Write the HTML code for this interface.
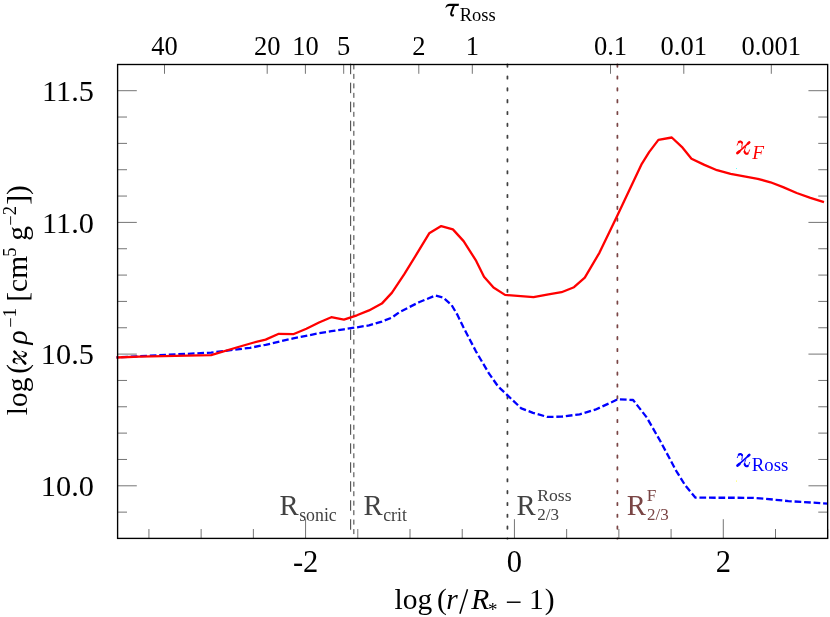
<!DOCTYPE html>
<html><head><meta charset="utf-8"><title>opacity plot</title>
<style>
html,body{margin:0;padding:0;background:#fff;}
body{width:830px;height:617px;overflow:hidden;font-family:"Liberation Serif",serif;}
svg{display:block;position:absolute;left:0;top:0;will-change:transform;}
text{font-family:"Liberation Serif",serif;}
.i{font-style:italic;}
</style></head><body>
<svg width="830" height="617" viewBox="0 0 830 617">
<rect x="0" y="0" width="830" height="617" fill="#fff"/>
<g stroke="#000" stroke-width="0.55" fill="none">
<line x1="117.6" y1="512.14" x2="127.0" y2="512.14"/>
<line x1="827.65" y1="512.14" x2="818.25" y2="512.14"/>
<line x1="117.6" y1="485.80" x2="136.79999999999998" y2="485.80"/>
<line x1="827.65" y1="485.80" x2="808.4499999999999" y2="485.80"/>
<line x1="117.6" y1="459.46" x2="127.0" y2="459.46"/>
<line x1="827.65" y1="459.46" x2="818.25" y2="459.46"/>
<line x1="117.6" y1="433.12" x2="127.0" y2="433.12"/>
<line x1="827.65" y1="433.12" x2="818.25" y2="433.12"/>
<line x1="117.6" y1="406.78" x2="127.0" y2="406.78"/>
<line x1="827.65" y1="406.78" x2="818.25" y2="406.78"/>
<line x1="117.6" y1="380.44" x2="127.0" y2="380.44"/>
<line x1="827.65" y1="380.44" x2="818.25" y2="380.44"/>
<line x1="117.6" y1="354.10" x2="136.79999999999998" y2="354.10"/>
<line x1="827.65" y1="354.10" x2="808.4499999999999" y2="354.10"/>
<line x1="117.6" y1="327.76" x2="127.0" y2="327.76"/>
<line x1="827.65" y1="327.76" x2="818.25" y2="327.76"/>
<line x1="117.6" y1="301.42" x2="127.0" y2="301.42"/>
<line x1="827.65" y1="301.42" x2="818.25" y2="301.42"/>
<line x1="117.6" y1="275.08" x2="127.0" y2="275.08"/>
<line x1="827.65" y1="275.08" x2="818.25" y2="275.08"/>
<line x1="117.6" y1="248.74" x2="127.0" y2="248.74"/>
<line x1="827.65" y1="248.74" x2="818.25" y2="248.74"/>
<line x1="117.6" y1="222.40" x2="136.79999999999998" y2="222.40"/>
<line x1="827.65" y1="222.40" x2="808.4499999999999" y2="222.40"/>
<line x1="117.6" y1="196.06" x2="127.0" y2="196.06"/>
<line x1="827.65" y1="196.06" x2="818.25" y2="196.06"/>
<line x1="117.6" y1="169.72" x2="127.0" y2="169.72"/>
<line x1="827.65" y1="169.72" x2="818.25" y2="169.72"/>
<line x1="117.6" y1="143.38" x2="127.0" y2="143.38"/>
<line x1="827.65" y1="143.38" x2="818.25" y2="143.38"/>
<line x1="117.6" y1="117.04" x2="127.0" y2="117.04"/>
<line x1="827.65" y1="117.04" x2="818.25" y2="117.04"/>
<line x1="117.6" y1="90.70" x2="136.79999999999998" y2="90.70"/>
<line x1="827.65" y1="90.70" x2="808.4499999999999" y2="90.70"/>
<line x1="148.93" y1="538.4" x2="148.93" y2="529.0"/>
<line x1="201.14" y1="538.4" x2="201.14" y2="529.0"/>
<line x1="253.36" y1="538.4" x2="253.36" y2="529.0"/>
<line x1="305.57" y1="538.4" x2="305.57" y2="519.1999999999999"/>
<line x1="357.79" y1="538.4" x2="357.79" y2="529.0"/>
<line x1="410.00" y1="538.4" x2="410.00" y2="529.0"/>
<line x1="462.22" y1="538.4" x2="462.22" y2="529.0"/>
<line x1="514.43" y1="538.4" x2="514.43" y2="519.1999999999999"/>
<line x1="566.65" y1="538.4" x2="566.65" y2="529.0"/>
<line x1="618.86" y1="538.4" x2="618.86" y2="529.0"/>
<line x1="671.08" y1="538.4" x2="671.08" y2="529.0"/>
<line x1="723.29" y1="538.4" x2="723.29" y2="519.1999999999999"/>
<line x1="775.51" y1="538.4" x2="775.51" y2="529.0"/>
<line x1="827.72" y1="538.4" x2="827.72" y2="529.0"/>
<line x1="164.5" y1="64.5" x2="164.5" y2="73.8"/>
<line x1="267.2" y1="64.5" x2="267.2" y2="73.8"/>
<line x1="305.4" y1="64.5" x2="305.4" y2="73.8"/>
<line x1="343.7" y1="64.5" x2="343.7" y2="73.8"/>
<line x1="418.8" y1="64.5" x2="418.8" y2="73.8"/>
<line x1="472.3" y1="64.5" x2="472.3" y2="73.8"/>
<line x1="610.5" y1="64.5" x2="610.5" y2="73.8"/>
<line x1="683.8" y1="64.5" x2="683.8" y2="73.8"/>
<line x1="771.3" y1="64.5" x2="771.3" y2="73.8"/>
</g>
<line x1="350.65" y1="63.7" x2="350.65" y2="538.4" stroke="#3c3c3c" stroke-width="1" stroke-dasharray="10.5 8.48"/>
<line x1="353.85" y1="64.4" x2="353.85" y2="538.4" stroke="#3c3c3c" stroke-width="1" stroke-dasharray="5 4.484"/>
<line x1="507.44" y1="64.45" x2="507.44" y2="538.7" stroke="#404040" stroke-width="1.75" stroke-dasharray="2.4 9.446" stroke-linecap="round"/>
<line x1="617.4" y1="64.45" x2="617.4" y2="538.7" stroke="#7a4545" stroke-width="1.75" stroke-dasharray="2.4 9.446" stroke-linecap="round"/>
<polyline points="116.5,357.4 211.1,352.6 250.0,347.8 265.6,344.8 293.2,338.4 319.0,333.2 331.3,331.2 343.9,329.3 356.9,327.3 369.0,325.4 381.8,321.6 391.9,317.6 399.4,312.1 418.9,302.3 435.4,295.5 443.2,297.5 451.6,305.0 457.6,315.2 463.3,327.0 475.9,351.3 488.9,373.4 498.0,386.3 507.6,395.4 521.3,408.4 533.0,412.8 547.2,416.9 561.5,416.7 579.7,414.3 595.2,409.7 609.5,403.2 617.7,399.3 633.1,400.0 646.7,417.4 660.4,441.3 676.2,470.8 685.3,485.5 695.5,497.7 752.3,497.8 765.0,498.7 788.4,501.1 828.0,503.6" fill="none" stroke="#0000ff" stroke-width="2.3" stroke-dasharray="6.7 2.83" stroke-dashoffset="4.8" stroke-linejoin="round"/>
<polyline points="116.5,357.5 139.2,356.7 211.1,355.1 238.3,347.0 253.9,342.5 265.6,339.6 278.8,333.8 293.2,334.2 306.4,328.7 319.0,322.5 331.3,317.2 343.9,319.6 356.9,315.3 369.0,310.4 381.8,303.6 391.8,292.9 404.3,274.2 416.9,253.7 429.2,233.3 441.2,226.1 452.9,229.4 463.6,241.1 476.2,260.9 484.0,276.7 493.5,287.5 505.0,294.9 533.5,297.2 548.5,294.3 561.5,292.2 574.0,287.2 584.8,277.7 599.4,252.8 616.9,216.4 630.1,188.6 641.8,163.8 649.1,152.1 658.4,139.9 671.8,137.5 682.6,147.7 691.5,158.7 704.4,164.9 717.0,170.2 730.6,173.9 744.2,176.4 757.8,178.8 770.5,182.3 783.1,187.1 796.7,193.0 810.4,197.8 824.0,202.1" fill="none" stroke="#ff0000" stroke-width="2.3" stroke-linejoin="round" stroke-linecap="butt"/>
<rect x="117.6" y="64.5" width="710.05" height="473.90" fill="none" stroke="#000" stroke-width="1.35"/>
<text x="93.9" y="100.9" font-size="30.3" text-anchor="end">11.5</text>
<text x="93.9" y="232.6" font-size="30.3" text-anchor="end">11.0</text>
<text x="93.9" y="364.3" font-size="30.3" text-anchor="end">10.5</text>
<text x="93.9" y="496.0" font-size="30.3" text-anchor="end">10.0</text>
<text x="305.6" y="571.8" font-size="30.5" text-anchor="middle">-2</text>
<text x="514.4" y="571.8" font-size="30.5" text-anchor="middle">0</text>
<text x="723.3" y="571.8" font-size="30.5" text-anchor="middle">2</text>
<text x="164.5" y="55.3" font-size="26.5" text-anchor="middle">40</text>
<text x="267.2" y="55.3" font-size="26.5" text-anchor="middle">20</text>
<text x="305.4" y="55.3" font-size="26.5" text-anchor="middle">10</text>
<text x="343.7" y="55.3" font-size="26.5" text-anchor="middle">5</text>
<text x="418.8" y="55.3" font-size="26.5" text-anchor="middle">2</text>
<text x="472.3" y="55.3" font-size="26.5" text-anchor="middle">1</text>
<text x="610.5" y="55.3" font-size="26.5" text-anchor="middle">0.1</text>
<text x="683.8" y="55.3" font-size="26.5" text-anchor="middle">0.01</text>
<text x="771.3" y="55.3" font-size="26.5" text-anchor="middle">0.001</text>
<path d="M445.4,7.8 C446.0,5.3 447.3,3.8 449.8,3.8 L459.0,3.8 L458.6,5.9 L449.6,5.9 C447.6,5.9 446.6,6.8 445.8,8.0 Z" fill="#000"/>
<path d="M454.0,5.5 C452.8,8.5 451.2,11.5 451.1,13.6 C451.0,15.6 452.6,15.9 453.0,15.2" fill="none" stroke="#000" stroke-width="2.0" stroke-linecap="round"/>
<text x="459.7" y="20.9" font-size="18.5">Ross</text>
<text x="394.6" y="608.9" font-size="29.5">log</text>
<text x="436.9" y="608.9" font-size="29.5">(</text>
<text x="446.2" y="608.9" font-size="29.5" class="i">r</text>
<line x1="459.9" y1="613.7" x2="467.5" y2="589.2" stroke="#000" stroke-width="1.5"/>
<text x="471.2" y="608.9" font-size="29.5" class="i">R</text>
<text x="487.9" y="616.3" font-size="19">*</text>
<text x="505.4" y="611.8" font-size="29.5">−</text>
<text x="529.1" y="608.9" font-size="29.5">1</text>
<text x="544.8" y="608.9" font-size="29.5">)</text>
<g transform="translate(27,414.7) rotate(-90)">
<text x="-0.6" y="0" font-size="29.5">log</text>
<text x="41.0" y="0" font-size="29.5">(</text>
<g transform="translate(50.3,-0.3)" stroke="#000" fill="none" stroke-linecap="round" stroke-linejoin="round"><path d="M0.9,-1.5 L12.8,-12.3" stroke-width="1.6"/><path d="M0.95,-1.55 L2.8,-3.2" stroke-width="2.7"/><path d="M11.4,-10.9 L12.75,-12.25" stroke-width="2.5"/><path d="M0.7,-9.5 C1.2,-11.6 2.4,-13.0 3.6,-13.2 C5.0,-13.4 5.9,-12.3 5.75,-10.6 C5.65,-9.3 5.4,-8.2 5.2,-7.2" stroke-width="0.9"/><path d="M2.3,-12.5 C3.2,-13.4 4.6,-13.3 5.4,-12.0" stroke-width="2.2"/><path d="M9.1,-7.4 C8.2,-5.5 7.7,-3.6 8.0,-2.4 C8.4,-0.9 9.6,-0.4 10.6,-0.7 C11.8,-1.1 12.6,-3.0 13.05,-4.7" stroke-width="0.9"/><path d="M8.1,-2.9 C8.5,-1.0 10.0,-0.5 11.1,-1.1" stroke-width="2.2"/></g>
<text x="70.3" y="0" font-size="29.5" class="i">ρ</text>
<text x="87" y="-9.9" font-size="18.5">−</text>
<text x="97.4" y="-11.1" font-size="18.5">1</text>
<text x="113" y="0" font-size="29.5">[cm</text>
<text x="157.9" y="-11.1" font-size="18.5">5</text>
<text x="174" y="0" font-size="29.5">g</text>
<text x="189" y="-9.9" font-size="18.5">−</text>
<text x="199.4" y="-11.1" font-size="18.5">2</text>
<text x="210" y="0" font-size="29.5">])</text>
</g>
<text x="279.6" y="514.9" font-size="28.7" fill="#424242">R</text>
<text x="299.2" y="520.7" font-size="17.8" fill="#424242">sonic</text>
<text x="363.6" y="514.9" font-size="28.7" fill="#424242">R</text>
<text x="383.2" y="520.7" font-size="17.8" fill="#424242">crit</text>
<text x="516.4" y="514.9" font-size="28.7" fill="#424242">R</text>
<text x="537.3" y="501.2" font-size="17.6" fill="#424242">Ross</text>
<text x="537.3" y="520.4" font-size="17" fill="#424242">2/3</text>
<text x="626.8" y="514.9" font-size="28.7" fill="#7a4545">R</text>
<text x="646.8" y="501.2" font-size="17.3" fill="#7a4545">F</text>
<text x="647.0" y="520.4" font-size="17" fill="#7a4545">2/3</text>
<g transform="translate(736.5,154.6)" stroke="#ff0000" fill="none" stroke-linecap="round" stroke-linejoin="round"><path d="M0.9,-1.5 L12.8,-12.3" stroke-width="1.6"/><path d="M0.95,-1.55 L2.8,-3.2" stroke-width="2.7"/><path d="M11.4,-10.9 L12.75,-12.25" stroke-width="2.5"/><path d="M0.7,-9.5 C1.2,-11.6 2.4,-13.0 3.6,-13.2 C5.0,-13.4 5.9,-12.3 5.75,-10.6 C5.65,-9.3 5.4,-8.2 5.2,-7.2" stroke-width="0.9"/><path d="M2.3,-12.5 C3.2,-13.4 4.6,-13.3 5.4,-12.0" stroke-width="2.2"/><path d="M9.1,-7.4 C8.2,-5.5 7.7,-3.6 8.0,-2.4 C8.4,-0.9 9.6,-0.4 10.6,-0.7 C11.8,-1.1 12.6,-3.0 13.05,-4.7" stroke-width="0.9"/><path d="M8.1,-2.9 C8.5,-1.0 10.0,-0.5 11.1,-1.1" stroke-width="2.2"/></g>
<text x="752.3" y="158.9" font-size="19.3" class="i" fill="#ff0000">F</text>
<g transform="translate(736.6,467.1)" stroke="#0000ff" fill="none" stroke-linecap="round" stroke-linejoin="round"><path d="M0.9,-1.5 L12.8,-12.3" stroke-width="1.6"/><path d="M0.95,-1.55 L2.8,-3.2" stroke-width="2.7"/><path d="M11.4,-10.9 L12.75,-12.25" stroke-width="2.5"/><path d="M0.7,-9.5 C1.2,-11.6 2.4,-13.0 3.6,-13.2 C5.0,-13.4 5.9,-12.3 5.75,-10.6 C5.65,-9.3 5.4,-8.2 5.2,-7.2" stroke-width="0.9"/><path d="M2.3,-12.5 C3.2,-13.4 4.6,-13.3 5.4,-12.0" stroke-width="2.2"/><path d="M9.1,-7.4 C8.2,-5.5 7.7,-3.6 8.0,-2.4 C8.4,-0.9 9.6,-0.4 10.6,-0.7 C11.8,-1.1 12.6,-3.0 13.05,-4.7" stroke-width="0.9"/><path d="M8.1,-2.9 C8.5,-1.0 10.0,-0.5 11.1,-1.1" stroke-width="2.2"/></g>
<text x="751.8" y="470.6" font-size="18.8" fill="#0000ff">Ross</text>
<rect x="736" y="168" width="1" height="1" fill="#66ffff"/>
<rect x="736" y="480.5" width="1" height="1.2" fill="#ffff66"/>
</svg></body></html>
